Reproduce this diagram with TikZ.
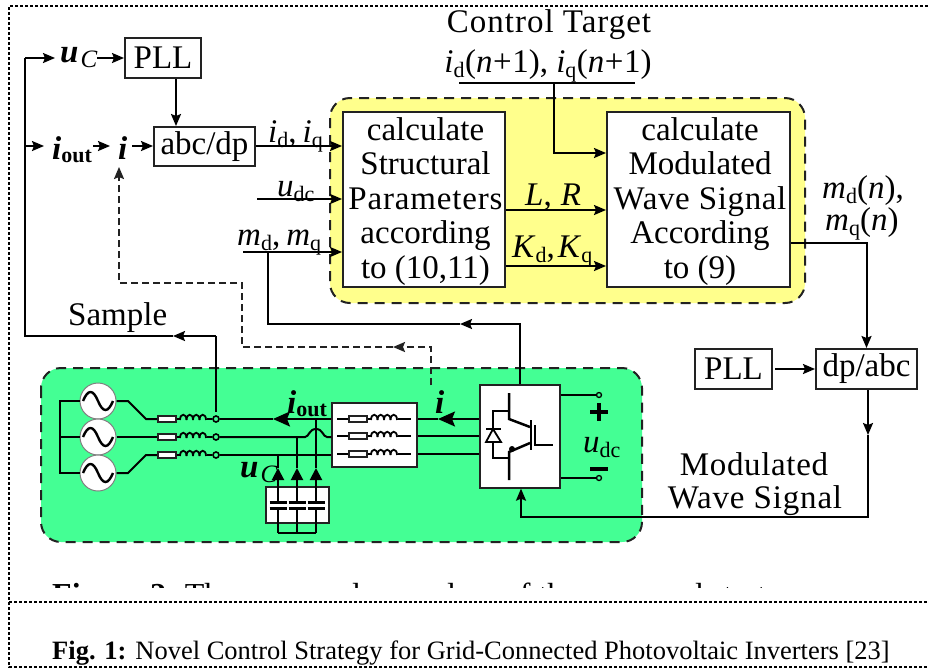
\documentclass[tikz,border=0pt]{standalone}
\usepackage{fontspec}
\setmainfont{Liberation Serif}
\usetikzlibrary{arrows.meta,calc}
\definecolor{panelY}{HTML}{FFFF8C}
\definecolor{panelG}{HTML}{44FF94}
\definecolor{edgeK}{HTML}{222222}
\newcommand{\fsz}[1]{\fontsize{#1}{#1}\selectfont}
\newcommand{\sbr}[1]{\raisebox{-0.16em}{\fsz{22}#1}}
\newcommand{\sbi}[1]{\raisebox{-0.16em}{\fsz{25}\textit{#1}}}
\newcommand{\sbb}[1]{\raisebox{-0.1em}{\fsz{22}\textbf{#1}}}
\newcommand{\bi}[1]{\textbf{\textit{#1}}}
\newcommand{\lsp}[2]{{\addfontfeatures{LetterSpace=#1}#2}}
\newcommand{\rlunit}[2]{%
  \draw[wire] (#1,#2) -- ({#1+22},#2);
  \draw[line width=1.3pt,edgeK,fill=white] (#1,{#2-3}) rectangle ({#1+18},{#2+3});
  \foreach \k in {0,1,2,3}{
    \draw[line width=1.8pt] ({#1+22+\k*6.5},{#2+1}) .. controls ({#1+22+\k*6.5},{#2-6}) and ({#1+28.5+\k*6.5},{#2-6}) .. ({#1+28.5+\k*6.5},{#2+1});
  }
}
\newcommand{\sinewave}[2]{%
  \draw[line width=2.4pt] ({#1-15},#2) .. controls ({#1-10},{#2-12}) and ({#1-5},{#2-12}) .. (#1,#2) .. controls ({#1+5},{#2+12}) and ({#1+10},{#2+12}) .. ({#1+15},#2);
}
\tikzset{
  x=1pt,y=-1pt,
  every node/.style={font=\fsz{33}},
  wire/.style={line width=2pt,black},
  awire/.style={wire,-{Stealth[length=12pt,width=10pt,inset=2pt]}},
  dwire/.style={line width=2pt,edgeK,dash pattern=on 7pt off 4pt},
  adwire/.style={dwire,-{Stealth[length=12pt,width=10pt,inset=2pt]}},
  bigtip/.style={wire,-{Stealth[length=17pt,width=15pt,inset=3pt]}},
  blk/.style={draw=edgeK,line width=2pt,fill=white,inner sep=0pt,align=center},
  stack/.style={inner sep=0pt,align=center,font=\fontsize{33}{34.5}\selectfont},
  panel/.style={draw=edgeK,line width=2pt,dash pattern=on 10pt off 7pt,rounded corners=20pt},
  frameline/.style={line width=1.5pt,black,dash pattern=on 3pt off 2pt},
  lbl/.style={inner sep=0pt,anchor=base west},
  term/.style={circle,draw=black,line width=1.6pt,inner sep=0pt,minimum size=6pt},
  gen/.style={circle,draw=gray,line width=1pt,fill=white,inner sep=0pt,minimum size=36pt},
  plate/.style={line width=3pt,black},
}
\begin{document}
\begin{tikzpicture}
\useasboundingbox (0,0) rectangle (928,670);
\fill[white] (0,0) rectangle (928,670);
% page frame
\coordinate (fTL) at (9,6); \coordinate (fTR) at (928,6);
\coordinate (fML) at (9,602); \coordinate (fMR) at (928,602);
\coordinate (fBL) at (9,667); \coordinate (fBR) at (928,667);
\draw[frameline] (fTR) -- (fTL) -- (fBL) -- (fBR);
\draw[frameline] (fML) -- (fMR);
% panels
\draw[panel,fill=panelY] (330,98) rectangle (805,303);
\draw[panel,fill=panelG] (41,368) rectangle (642,542);
% blocks
\node[blk,minimum width=76pt,minimum height=40pt] (pllA) at (163,58) {PLL};
\node[blk,minimum width=101pt,minimum height=39pt] (abc) at (204.5,146.5) {abc/dp};
\node[blk,minimum width=162pt,minimum height=175pt] (calcA) at (424,199.5) {};
\node[stack] (calcAt) at (425.5,201.5) {calculate\\Structural\\\lsp{2.5}{Parameters}\\according\\to (10,11)};
\node[blk,minimum width=183pt,minimum height=175pt] (calcB) at (698.5,199.5) {};
\node[stack] (calcBt) at (700,201.5) {calculate\\Modulated\\\lsp{2}{Wave Signal}\\According\\to (9)};
\node[blk,minimum width=77pt,minimum height=40pt] (pllB) at (733.5,369) {PLL};
\node[blk,minimum width=101pt,minimum height=40pt] (dpabc) at (866.5,369) {dp/abc};
\node[draw=edgeK,line width=1.3pt,fill=white,minimum width=85pt,minimum height=64pt,inner sep=0pt] (filt) at (374.5,435) {};
\node[draw=edgeK,line width=1.3pt,fill=white,minimum width=80pt,minimum height=103pt,inner sep=0pt] (inv) at (520,436.5) {};
\node[draw=edgeK,line width=1.3pt,fill=white,minimum width=63pt,minimum height=36pt,inner sep=0pt] (capb) at (297.5,505) {};
% coordinates of free ends
\coordinate (bus) at (25,336);
\coordinate (busU) at (25,58);
\coordinate (busI) at (25,146);
\coordinate (sampTip) at (173,336);
% labels
\node[lbl] (uC) at (60,62) {\bi{u}\kern2pt\sbi{C}};
\node[lbl] (iOut) at (52,159) {\bi{i}\sbb{out}};
\node[lbl] (iTop) at (118,159) {\bi{i}};
\node[lbl] (samp) at (68,325) {Sample};
\node[lbl] (idq) at (268,142) {\textit{i}\sbr{d},\kern6pt\textit{i}\sbr{q}};
\node[lbl] (udcL) at (277,196) {\textit{u}\sbr{dc}};
\node[lbl] (mdq) at (237,245) {\textit{m}\sbr{d},\kern6pt\textit{m}\sbr{q}};
\node[inner sep=0pt,anchor=base] (target) at (549,32) {\lsp{3}{Control Target}};
\node[inner sep=0pt,anchor=base] (idqn) at (548,72) {\textit{i}\sbr{d}\kern.5pt(\textit{n}\kern.5pt+\kern.5pt1), \textit{i}\sbr{q}\kern.5pt(\textit{n}\kern.5pt+\kern.5pt1)};
\node[lbl] (LR) at (525,205) {\textit{L},\kern9pt\textit{R}};
\node[lbl] (Kdq) at (512,257) {\textit{K}\sbr{d},\kern3pt\textit{K}\sbr{q}};
\node[lbl] (mdn) at (822,198) {\textit{m}\sbr{d}(\textit{n}),};
\node[lbl] (mqn) at (825,230) {\textit{m}\sbr{q}(\textit{n})};
\node[inner sep=0pt,anchor=base] (modA) at (754,475) {\lsp{2}{Modulated}};
\node[inner sep=0pt,anchor=base] (modB) at (755,508) {\lsp{2.5}{Wave Signal}};
\node[lbl] (iOutG) at (287,413) {\bi{i}\sbb{out}};
\node[lbl] (uCG) at (240,477) {\bi{u}\kern2pt\sbi{C}};
\node[lbl] (iG) at (435,413) {\bi{i}};
\node[lbl] (udcG) at (583,452) {\textit{u}\sbr{dc}};
% top-left wiring
\coordinate (sampS) at (216,412);
\coordinate (sampJ) at (216,336);
\draw[wire] (sampS) -- (sampJ);
\draw[awire] (sampJ) -- (sampTip);
\draw[wire] (sampTip) -- (bus) -- (busI);
\draw[awire] (busI) -- (44,146);
\draw[wire] (busI) -- (busU);
\draw[awire] (busU) -- (55,58);
\draw[awire] (97,58) -- (pllA.west);
\draw[awire] (93,146) -- (110,146);
\draw[awire] (132,146) -- (abc.west |- 0,146);
\coordinate (pllDown) at (176,79);
\draw[awire] (pllDown) -- (pllDown |- abc.north);
\draw[awire] (abc.east |- 0,146) -- (calcA.west |- 0,146);
\coordinate (udcS) at (257,199);
\coordinate (mdS) at (243,252);
\draw[awire] (udcS) -- (udcS -| calcA.west);
\draw[awire] (mdS) -- (mdS -| calcA.west);
\coordinate (mdJ) at (268,252);
\coordinate (fbK) at (268,324);
\coordinate (fbTip) at (460,324);
\draw[wire] (mdJ) -- (fbK) -- (fbTip);
\draw[wire,{Stealth[length=12pt,width=10pt,inset=2pt]}-] (fbTip) -- (inv.north |- fbTip) -- (inv.north);
% dashed sample of i
\coordinate (dA) at (431,385); \coordinate (dB) at (431,347);
\coordinate (dTip) at (393,347); \coordinate (dC) at (242,347);
\coordinate (dD) at (242,283); \coordinate (dE) at (119,283); \coordinate (dF) at (119,167);
\draw[adwire] (dA) -- (dB) -- (dTip);
\draw[adwire] (dTip) -- (dC) -- (dD) -- (dE) -- (dF);
% control side
\coordinate (tgL) at (459,83); \coordinate (tgR) at (635,83); \coordinate (tgJ) at (554,83);
\draw[wire] (tgL) -- (tgR);
\draw[awire] (tgJ) -- (554,153) -- (calcB.west |- 0,153);
\draw[awire] (calcA.east |- 0,210) -- (calcB.west |- 0,210);
\draw[awire] (calcA.east |- 0,266) -- (calcB.west |- 0,266);
\draw[awire] (calcB.east |- 0,243) -- (dpabc.north |- 0,243) -- (dpabc.north);
\draw[awire] (pllB.east) ++(2,0) -- (dpabc.west);
\coordinate (dnTip) at (868,435);
\draw[awire] (dpabc.south -| dnTip) -- (dnTip);
\draw[awire] (dnTip) -- (868,517) -- (521,517) -- (inv.south -| 521,0);
% generators and branches
\node[gen] (gA) at (98,401) {}; \node[gen] (gB) at (98,437) {}; \node[gen] (gC) at (98,473) {};
\sinewave{98}{401}\sinewave{98}{437}\sinewave{98}{473}
\coordinate (starT) at (60,401); \coordinate (starB) at (60,473); \coordinate (starM) at (60,437);
\draw[wire] (gA.west) -- (starT) -- (starB) -- (gC.west);
\draw[wire] (starM) -- (gB.west);
\draw[wire] (gA.east) -- (128,401) -- (146,419) -- (158,419);
\draw[wire] (gB.east) -- (158,437);
\draw[wire] (gC.east) -- (128,473) -- (146,455) -- (158,455);
\rlunit{158}{419}\rlunit{158}{437}\rlunit{158}{455}
\node[term] (tA) at (216,419) {}; \node[term] (tB) at (216,437) {}; \node[term] (tC) at (216,455) {};
\draw[wire] (207,419) -- (tA); \draw[wire] (207,437) -- (tB); \draw[wire] (207,455) -- (tC);
% lines to the filter
\coordinate (iArr) at (273,419);
\draw[bigtip] (filt.west |- iArr) -- (iArr);
\draw[wire] (iArr) -- (tA.east);
\draw[wire] (tB.east) -- (305,437) .. controls (309,437) and (309,429) .. (316,429) .. controls (323,429) and (323,437) .. (327,437) -- (filt.west |- tB);
\draw[wire] (tC.east) -- (filt.west |- tC);
% capacitors
\foreach \cx/\cy/\nm in {278/455/a,297/437/b,316/419/c}{
  \coordinate (ct\nm) at (\cx,468);
  \draw[wire] (\cx,\cy) -- (ct\nm);
  \draw[wire,-{Stealth[length=12pt,width=12pt,inset=0pt]}] (\cx,487) -- (ct\nm);
  \draw[wire] (\cx,487) -- (\cx,502);
  \draw[plate] ({\cx-8.5},502) -- ({\cx+8.5},502);
  \draw[plate] ({\cx-8.5},508) -- ({\cx+8.5},508);
  \draw[wire] (\cx,508) -- (\cx,533);
}
\draw[wire] (278,533) -- (316,533);
% filter contents
\foreach \fy in {419,436,454}{
  \draw[wire] (337,\fy) -- (349,\fy);
  \rlunit{349}{\fy}
  \draw[wire] (398,\fy) -- (411,\fy);
}
% filter to inverter
\coordinate (iTip) at (438,419);
\draw[bigtip] (inv.west |- iTip) -- (iTip);
\draw[wire] (iTip) -- (filt.east |- iTip);
\draw[wire] (inv.west |- 0,436) -- (filt.east |- 0,436);
\draw[wire] (inv.west |- 0,454) -- (filt.east |- 0,454);
% IGBT
\draw[line width=2.5pt] (509,393) -- (509,419) -- (530,427);
\draw[line width=2.5pt] (531,420) -- (531,450);
\draw[line width=2.5pt] (535,425) -- (535,445) -- (553,445);
\draw[line width=2.5pt] (530,443) -- (509,452) -- (509,480);
\fill (512,449) circle (3pt);
\draw[wire] (509,411) -- (493,411) -- (493,458) -- (509,458);
\draw[line width=1.8pt,fill=white] (493,429) -- (486,442) -- (501,442) -- cycle;
\draw[line width=2.5pt] (486,429) -- (501,429);
% DC terminals
\node[term,line width=1.3pt,minimum size=5pt] (pT) at (599,395) {};
\node[term,line width=1.3pt,minimum size=5pt] (nT) at (599,478) {};
\draw[wire] (inv.east |- pT) -- (pT);
\draw[wire] (inv.east |- nT) -- (nT);
\draw[line width=3.5pt] (590,412) -- (608,412);
\draw[line width=3.5pt] (599,403) -- (599,421);
\draw[line width=3.5pt] (590,469) -- (608,469);
% clipped line of text
\begin{scope}
\clip (30,575) rectangle (928,587);
\node[inner sep=0pt,anchor=base west,font=\fsz{32}] (clipT) at (52,605) {\textbf{Figure 2.} The proposed procedure of the proposed strategy};
\end{scope}
% caption
\node[inner sep=0pt,anchor=base west,font=\fsz{26.5}] (cap) at (52,659) {\textbf{Fig. 1:} Novel Control Strategy for Grid-Connected Photovoltaic Inverters [23]};
\end{tikzpicture}
\end{document}
